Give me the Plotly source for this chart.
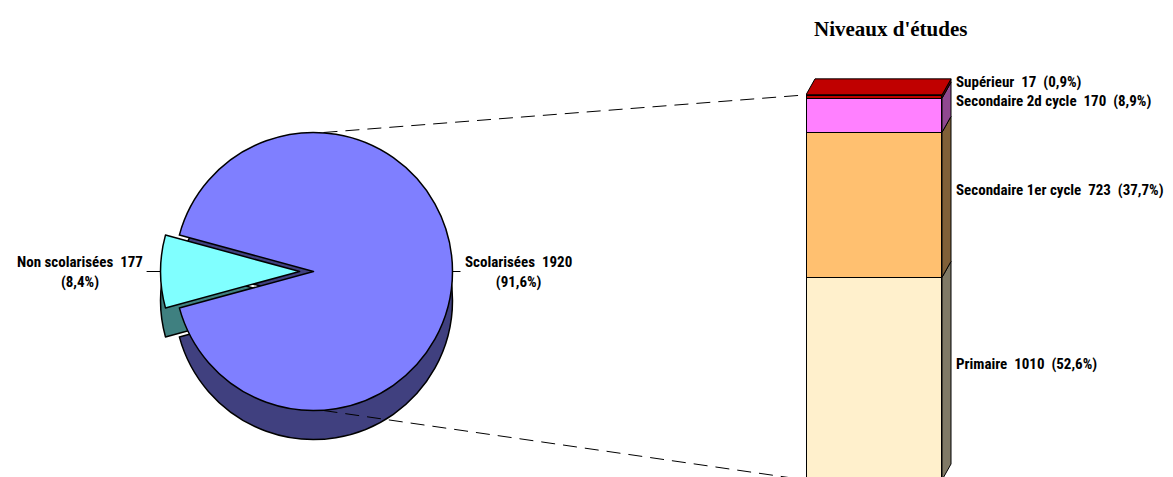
import plotly.graph_objects as go

# ---------------- data ----------------
pie_labels = ["Non scolarisées", "Scolarisées"]
pie_values = [177, 1920]
pie_colors = ["#80FFFF", "#7F7FFF"]
pie_side_colors = ["#3F8080", "#40407F"]
pie_pull = [0.1, 0.0]

bar_title = "Niveaux d'études"
bar_labels = ["Primaire", "Secondaire 1er cycle", "Secondaire 2d cycle", "Supérieur"]
bar_values = [1010, 723, 170, 17]
bar_colors = ["#FFF0CC", "#FFC070", "#FF80FF", "#C00000"]
bar_side_colors = ["#807A66", "#806038", "#904890", "#600000"]
bar_top_color = "#C00000"

# ---------------- layout constants ----------------
W, H = 1173, 477
FONT = "Liberation Sans Narrow, Arial Narrow, Roboto Condensed, DejaVu Sans Condensed, sans-serif"
NB = "\u00a0"


def fr(p):
    return f"{p:.1f}".replace(".", ",")


# pie geometry (pixels)
pcx, pcy, pr = 313.5, 271.5, 139.0
depth_px = 29
half = pr * (1 + max(pie_pull))


def pie_domain(dy_px=0):
    cyb = H - pcy - dy_px
    return dict(x=[(pcx - half) / W, (pcx + half) / W],
                y=[(cyb - half) / H, (cyb + half) / H])


pie_total = sum(pie_values)
first_angle = 270 - 360 * pie_values[0] / pie_total / 2  # centre first slice at 9 o'clock

fig = go.Figure()

# side (depth) of the pie
fig.add_trace(go.Pie(
    labels=pie_labels, values=pie_values, sort=False, direction="clockwise",
    rotation=first_angle, pull=pie_pull, domain=pie_domain(depth_px),
    marker=dict(colors=pie_side_colors, line=dict(color="black", width=1.5)),
    textinfo="none", hoverinfo="skip", showlegend=False))
# top of the pie
fig.add_trace(go.Pie(
    labels=pie_labels, values=pie_values, sort=False, direction="clockwise",
    rotation=first_angle, pull=pie_pull, domain=pie_domain(0),
    marker=dict(colors=pie_colors, line=dict(color="black", width=1.5)),
    textinfo="none", showlegend=False))

# ---------------- stacked 3D bar ----------------
ppu = 0.2006          # px per unit on y
px_x = 136.0          # px per unit on x
xd0 = 806.0
x_max = 1.15
y_min = 15.0
ytop_px = 60.0
y_max = y_min + (H - ytop_px) / ppu
dx = 9 / px_x
dy = 16 / ppu

xaxis_dom = [xd0 / W, (xd0 + x_max * px_x) / W]
yaxis_dom = [0, (H - ytop_px) / H]

bases = []
acc = 0
for v in bar_values:
    bases.append(acc)
    acc += v
total = acc

for lab, v, c in zip(bar_labels, bar_values, bar_colors):
    fig.add_trace(go.Bar(x=[0.5], y=[v], width=[1.0], name=lab,
                         marker=dict(color=c, line=dict(color="black", width=1.5)),
                         xaxis="x", yaxis="y", showlegend=False))

for b, v, sc in zip(bases, bar_values, bar_side_colors):
    t = b + v
    fig.add_trace(go.Scatter(
        x=[1, 1 + dx, 1 + dx, 1, 1], y=[b, b + dy, t + dy, t, b],
        fill="toself", fillcolor=sc, mode="lines",
        line=dict(color="black", width=1), hoverinfo="skip",
        xaxis="x", yaxis="y", showlegend=False))

fig.add_trace(go.Scatter(
    x=[0, dx, 1 + dx, 1, 0], y=[total, total + dy, total + dy, total, total],
    fill="toself", fillcolor=bar_top_color, mode="lines",
    line=dict(color="black", width=1), hoverinfo="skip",
    xaxis="x", yaxis="y", showlegend=False))

annotations = []
for b, v, lab in zip(bases, bar_values, bar_labels):
    mid = b + v / 2 + dy * 0.9
    annotations.append(dict(
        x=1 + 12 / px_x, y=mid, xref="x", yref="y", xanchor="left", yanchor="middle",
        text=f"<b>{lab}{NB}{NB}{v}{NB}{NB}({fr(100 * v / total)}%)</b>",
        showarrow=False, font=dict(family=FONT, size=15, color="black")))

annotations.append(dict(
    x=(xd0 + 84) / W, y=1 - 29 / H, xref="paper", yref="paper",
    xanchor="center", yanchor="middle", text=f"<b>{bar_title}</b>", showarrow=False,
    font=dict(family="Liberation Serif, Times New Roman, serif", size=21, color="black")))

# pie labels with leader lines
pull_px = pie_pull[0] * pr
left_edge = pcx - pr - pull_px
right_edge = pcx + pr
for lab, v, xe, side, gap in [(pie_labels[0], pie_values[0], left_edge, -1, 14),
                              (pie_labels[1], pie_values[1], right_edge, 1, 8)]:
    annotations.append(dict(
        x=xe / W, y=1 - pcy / H, xref="paper", yref="paper",
        ax=gap * side, ay=0, axref="pixel", ayref="pixel",
        xanchor="left" if side > 0 else "right", yanchor="middle",
        text=f"<b>{lab}{NB}{NB}{v}<br>({fr(100 * v / pie_total)}%)</b>", align="center",
        borderpad=3,
        showarrow=True, arrowhead=0, arrowwidth=1, arrowcolor="black",
        font=dict(family=FONT, size=15, color="black")))

# dashed connectors from the pie to the bar
def ypaper(v):
    return yaxis_dom[0] + (v - y_min) / (y_max - y_min) * (yaxis_dom[1] - yaxis_dom[0])

dash = "14px,8px"
shapes = [
    dict(type="line", xref="paper", yref="paper",
         x0=(pcx + 10) / W, y0=1 - (pcy - pr) / H, x1=xaxis_dom[0], y1=ypaper(total),
         line=dict(color="black", width=1, dash=dash)),
    dict(type="line", xref="paper", yref="paper",
         x0=(pcx + 10) / W, y0=1 - (pcy + pr) / H, x1=xaxis_dom[0], y1=ypaper(0),
         line=dict(color="black", width=1, dash=dash)),
]

fig.update_layout(
    width=W, height=H, margin=dict(l=0, r=0, t=0, b=0),
    paper_bgcolor="white", plot_bgcolor="rgba(0,0,0,0)",
    barmode="stack", showlegend=False,
    xaxis=dict(domain=xaxis_dom, range=[0, x_max], visible=False, fixedrange=True),
    yaxis=dict(domain=yaxis_dom, range=[y_min, y_max], visible=False, fixedrange=True),
    annotations=annotations, shapes=shapes)

fig.write_html("out.html")
